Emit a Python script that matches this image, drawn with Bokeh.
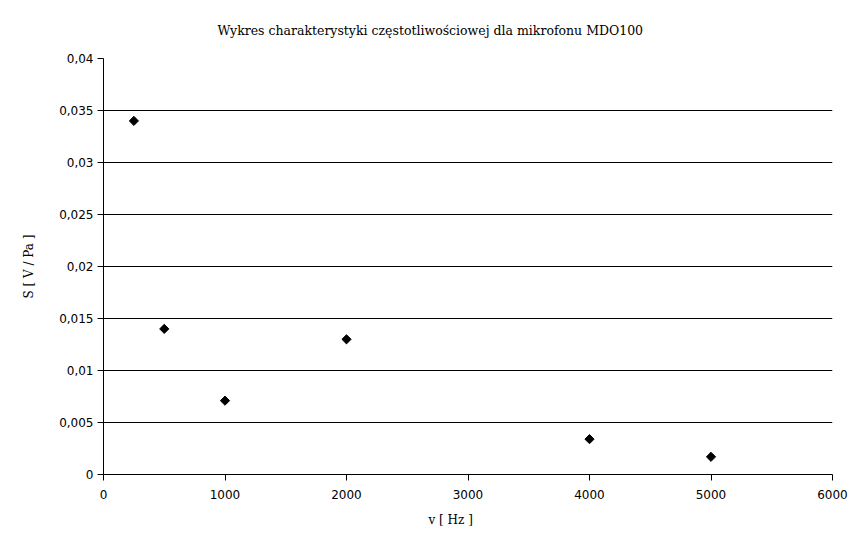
import math
from bokeh.plotting import figure
from bokeh.embed import file_html
from bokeh.resources import INLINE
from bokeh.models import FixedTicker, CustomJSTickFormatter, Range1d, Title

freq_hz = [250, 500, 1000, 2000, 4000, 5000]
sens_v_pa = [0.0340, 0.0140, 0.0071, 0.0130, 0.0034, 0.0017]
x_ticks = [0, 1000, 2000, 3000, 4000, 5000, 6000]
y_ticks = [0, 0.005, 0.01, 0.015, 0.02, 0.025, 0.03, 0.035, 0.04]

title_text = "Wykres charakterystyki częstotliwościowej dla mikrofonu MDO100"
x_label = "v [ Hz ]"
y_label = "S [ V / Pa ]"

p = figure(width=858, height=544, output_backend="svg", toolbar_location=None,
           x_range=Range1d(0, 6000), y_range=Range1d(0, 0.04),
           min_border_left=103, min_border_right=26, min_border_top=58, min_border_bottom=70)

p.add_layout(Title(text=title_text, align="left", offset=114, vertical_align="top",
                   text_font="DejaVu Serif", text_font_size="12.5px",
                   text_font_style="normal", text_color="black", standoff=38), "above")

p.scatter(freq_hz, sens_v_pa, marker="square", angle=math.pi / 4, size=6.5, color="black")

p.outline_line_color = None
p.background_fill_color = "white"
p.border_fill_color = "white"

p.xgrid.grid_line_color = None
p.ygrid.grid_line_color = "black"
p.ygrid.grid_line_width = 1
p.ygrid.ticker = FixedTicker(ticks=y_ticks)

p.xaxis.ticker = FixedTicker(ticks=x_ticks)
p.yaxis.ticker = FixedTicker(ticks=y_ticks)
p.yaxis.formatter = CustomJSTickFormatter(code="return tick.toString().replace('.', ',');")
p.xaxis.formatter = CustomJSTickFormatter(code="return tick.toString();")

for ax in (p.xaxis, p.yaxis):
    ax.axis_line_color = "black"
    ax.major_tick_line_color = "black"
    ax.minor_tick_line_color = None
    ax.major_tick_out = 6
    ax.major_tick_in = 0
    ax.major_label_text_font = "DejaVu Sans"
    ax.major_label_text_font_size = "12px"
    ax.major_label_text_color = "black"
    ax.axis_label_text_font = "DejaVu Serif"
    ax.axis_label_text_font_size = "12px"
    ax.axis_label_text_font_style = "normal"
    ax.axis_label_text_color = "black"

p.add_layout(Title(text=x_label, align="left", offset=325, vertical_align="top",
                   text_font="DejaVu Serif", text_font_size="12px",
                   text_font_style="normal", text_color="black", standoff=22), "below")
p.yaxis.axis_label = y_label
p.yaxis.axis_label_standoff = 20
p.xaxis.major_label_standoff = 9
p.yaxis.major_label_standoff = 4

open("out.html", "w").write(file_html(p, INLINE))
